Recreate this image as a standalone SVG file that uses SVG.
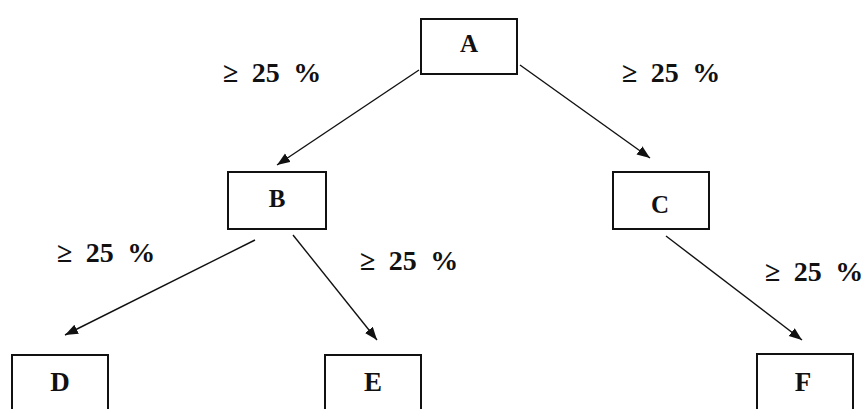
<svg xmlns="http://www.w3.org/2000/svg" width="862" height="409" viewBox="0 0 862 409">
<style>
.box{fill:#fff;stroke:#111;stroke-width:2}
.lt{font-family:"Liberation Serif","Times New Roman",serif;font-weight:bold;fill:#111;text-anchor:middle}
.top{font-size:25px}
.bot{font-size:27px}
.lbl{font-family:"Liberation Serif","Times New Roman",serif;font-weight:bold;font-size:28px;fill:#111;word-spacing:6.5px}
.edge{stroke:#111;stroke-width:1.4;fill:none;marker-end:url(#ah)}
</style>
<defs>
<marker id="ah" markerUnits="userSpaceOnUse" markerWidth="14" markerHeight="11" refX="13" refY="5" orient="auto">
<path d="M0,0 L13,5 L0,10 z" fill="#111"/>
</marker>
</defs>
<rect width="862" height="409" fill="#fff"/>
<g id="connectors">
<line class="edge" x1="419" y1="70" x2="277" y2="165"/>
<line class="edge" x1="520" y1="65" x2="650" y2="158"/>
<line class="edge" x1="255" y1="240" x2="65" y2="335"/>
<line class="edge" x1="293" y1="235" x2="377" y2="340"/>
<line class="edge" x1="666" y1="236" x2="802" y2="340"/>
</g>
<g id="labels">
<text class="lbl" x="223" y="82">≥ 25 %</text>
<text class="lbl" x="622" y="82">≥ 25 %</text>
<text class="lbl" x="57" y="262">≥ 25 %</text>
<text class="lbl" x="360" y="270">≥ 25 %</text>
<text class="lbl" x="765" y="281">≥ 25 %</text>
</g>
<g id="node-A"><rect class="box" x="421" y="19" width="96" height="55"/><text class="lt top" x="469" y="52">A</text></g>
<g id="node-B"><rect class="box" x="228" y="172" width="98" height="57"/><text class="lt top" x="277" y="207">B</text></g>
<g id="node-C"><rect class="box" x="613" y="172" width="96" height="57"/><text class="lt top" x="660" y="213">C</text></g>
<g id="node-D"><rect class="box" x="12" y="355" width="96" height="60"/><text class="lt bot" x="60" y="391">D</text></g>
<g id="node-E"><rect class="box" x="325" y="355" width="96" height="60"/><text class="lt bot" x="373" y="391">E</text></g>
<g id="node-F"><rect class="box" x="757" y="354" width="96" height="60"/><text class="lt bot" x="803" y="391">F</text></g>
</svg>
